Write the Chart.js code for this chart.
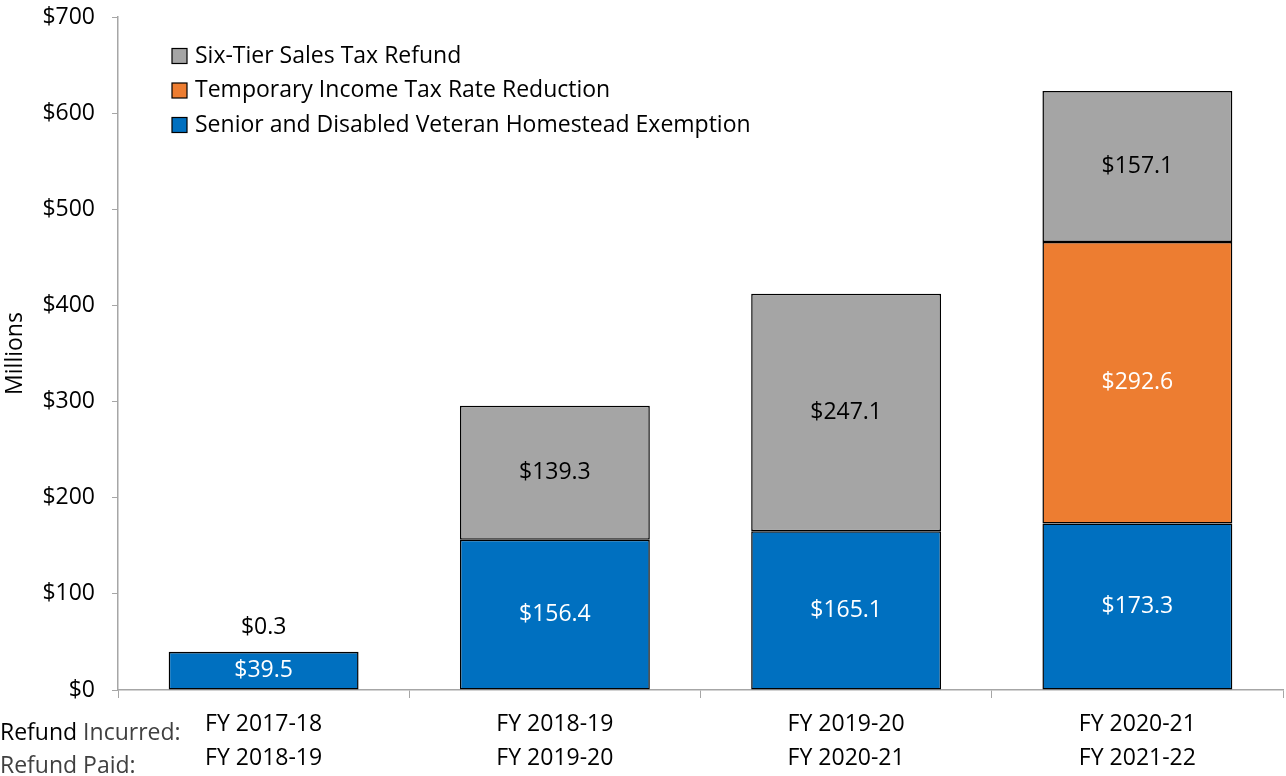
<!DOCTYPE html>
<html>
<head>
<meta charset="utf-8">
<script src="https://cdn.jsdelivr.net/npm/chart.js@4"></script>
<style>
  html, body { margin: 0; padding: 0; background: #fff; }
  #wrap { width: 1286px; height: 776px; }
</style>
</head>
<body>
<div id="wrap"><canvas id="chart" width="1286" height="776"></canvas></div>
<script>
// ---- Data ----
const incurred = ['FY 2017-18', 'FY 2018-19', 'FY 2019-20', 'FY 2020-21'];
const paid = ['FY 2018-19', 'FY 2019-20', 'FY 2020-21', 'FY 2021-22'];
const seniorVeteran = [39.5, 156.4, 165.1, 173.3];
const incomeTaxCut = [0, 0, 0, 292.6];
const sixTier = [0.3, 139.3, 247.1, 157.1];
const yTicks = [0, 100, 200, 300, 400, 500, 600, 700];

const FONT = "'Open Sans', sans-serif";
const FS = 23;
const AXIS = '#A6A6A6';

// value labels inside / above each bar segment
const segmentLabels = {
    id: 'segmentLabels',
    afterDatasetsDraw(chart) {
        const ctx = chart.ctx;
        ctx.save();
        ctx.font = FS + 'px ' + FONT;
        ctx.textAlign = 'center';
        ctx.textBaseline = 'middle';
        chart.data.datasets.forEach((ds, i) => {
            const meta = chart.getDatasetMeta(i);
            meta.data.forEach((bar, j) => {
                const v = ds.data[j];
                if (!v) {
                    return;
                }
                const h = bar.base - bar.y;
                let y = (bar.y + bar.base) / 2;
                let color = ds.labelColor;
                if (h < 20) {
                    y = bar.y - 24;
                    color = '#000';
                }
                ctx.fillStyle = color;
                ctx.fillText('$' + v.toFixed(1), bar.x, y);
            });
        });
        ctx.restore();
    }
};

// legend box in the top-left of the plot, last series first
const boxLegend = {
    id: 'boxLegend',
    afterDraw(chart) {
        const ctx = chart.ctx;
        const area = chart.chartArea;
        ctx.save();
        ctx.font = FS + 'px ' + FONT;
        ctx.textBaseline = 'middle';
        const items = chart.data.datasets.slice().reverse();
        items.forEach((ds, k) => {
            const x = area.left + 54;
            const y = 56 + k * 34.5;
            ctx.fillStyle = ds.backgroundColor;
            ctx.fillRect(x, y - 7.5, 15, 15);
            ctx.strokeStyle = '#000';
            ctx.lineWidth = 1.2;
            ctx.strokeRect(x, y - 7.5, 15, 15);
            ctx.fillStyle = '#000';
            ctx.fillText(ds.label, x + 23, y);
        });
        ctx.restore();
    }
};

// row captions left of the category labels
const rowCaptions = {
    id: 'rowCaptions',
    afterDraw(chart) {
        const ctx = chart.ctx;
        ctx.save();
        ctx.font = FS + 'px ' + FONT;
        ctx.textBaseline = 'middle';
        ctx.textAlign = 'left';
        ctx.fillStyle = '#000';
        ctx.fillText('Refund', 0, 733);
        const w = ctx.measureText('Refund ').width;
        ctx.fillStyle = '#404040';
        ctx.fillText('Incurred:', w, 733);
        ctx.fillText('Refund Paid:', 0, 766);
        ctx.restore();
    }
};

const ctx = document.getElementById('chart').getContext('2d');
new Chart(ctx, {
    type: 'bar',
    data: {
        labels: incurred.map((c, i) => [c, paid[i]]),
        datasets: [{
            label: 'Senior and Disabled Veteran Homestead Exemption',
            data: seniorVeteran,
            backgroundColor: '#0070C0',
            labelColor: '#fff'
        }, {
            label: 'Temporary Income Tax Rate Reduction',
            data: incomeTaxCut,
            backgroundColor: '#ED7D31',
            labelColor: '#fff'
        }, {
            label: 'Six-Tier Sales Tax Refund',
            data: sixTier,
            backgroundColor: '#A5A5A5',
            labelColor: '#000'
        }]
    },
    options: {
        responsive: false,
        animation: false,
        layout: { padding: { left: 0, right: 3, top: 17, bottom: 0 } },
        datasets: {
            bar: {
                borderColor: '#000',
                borderWidth: 1.5,
                borderSkipped: false,
                categoryPercentage: 1,
                barPercentage: 0.652
            }
        },
        plugins: {
            legend: { display: false },
            tooltip: { enabled: false }
        },
        scales: {
            x: {
                stacked: true,
                offset: true,
                border: { color: AXIS, width: 1.5 },
                grid: {
                    offset: true,
                    drawOnChartArea: false,
                    color: AXIS,
                    tickLength: 8
                },
                ticks: {
                    color: '#000',
                    padding: 10,
                    maxRotation: 0,
                    font: { family: FONT, size: FS, lineHeight: 1.45 }
                },
                afterFit(scale) {
                    scale.height = 86;
                    scale.paddingLeft = 0;
                    scale.paddingRight = 0;
                }
            },
            y: {
                stacked: true,
                min: 0,
                max: 700,
                border: { color: AXIS, width: 1.5 },
                grid: {
                    drawOnChartArea: false,
                    color: AXIS,
                    tickLength: 6
                },
                afterBuildTicks(scale) {
                    scale.ticks = yTicks.map(v => ({ value: v }));
                },
                ticks: {
                    color: '#000',
                    padding: 17,
                    font: { family: FONT, size: FS },
                    callback: v => '$' + v
                },
                title: {
                    display: true,
                    text: 'Millions',
                    color: '#000',
                    padding: { top: 2, bottom: 0 },
                    font: { family: FONT, size: FS }
                },
                afterFit(scale) {
                    scale.width = 118;
                    scale.paddingTop = 0;
                    scale.paddingBottom = 0;
                }
            }
        }
    },
    plugins: [segmentLabels, boxLegend, rowCaptions]
});
</script>
</body>
</html>
